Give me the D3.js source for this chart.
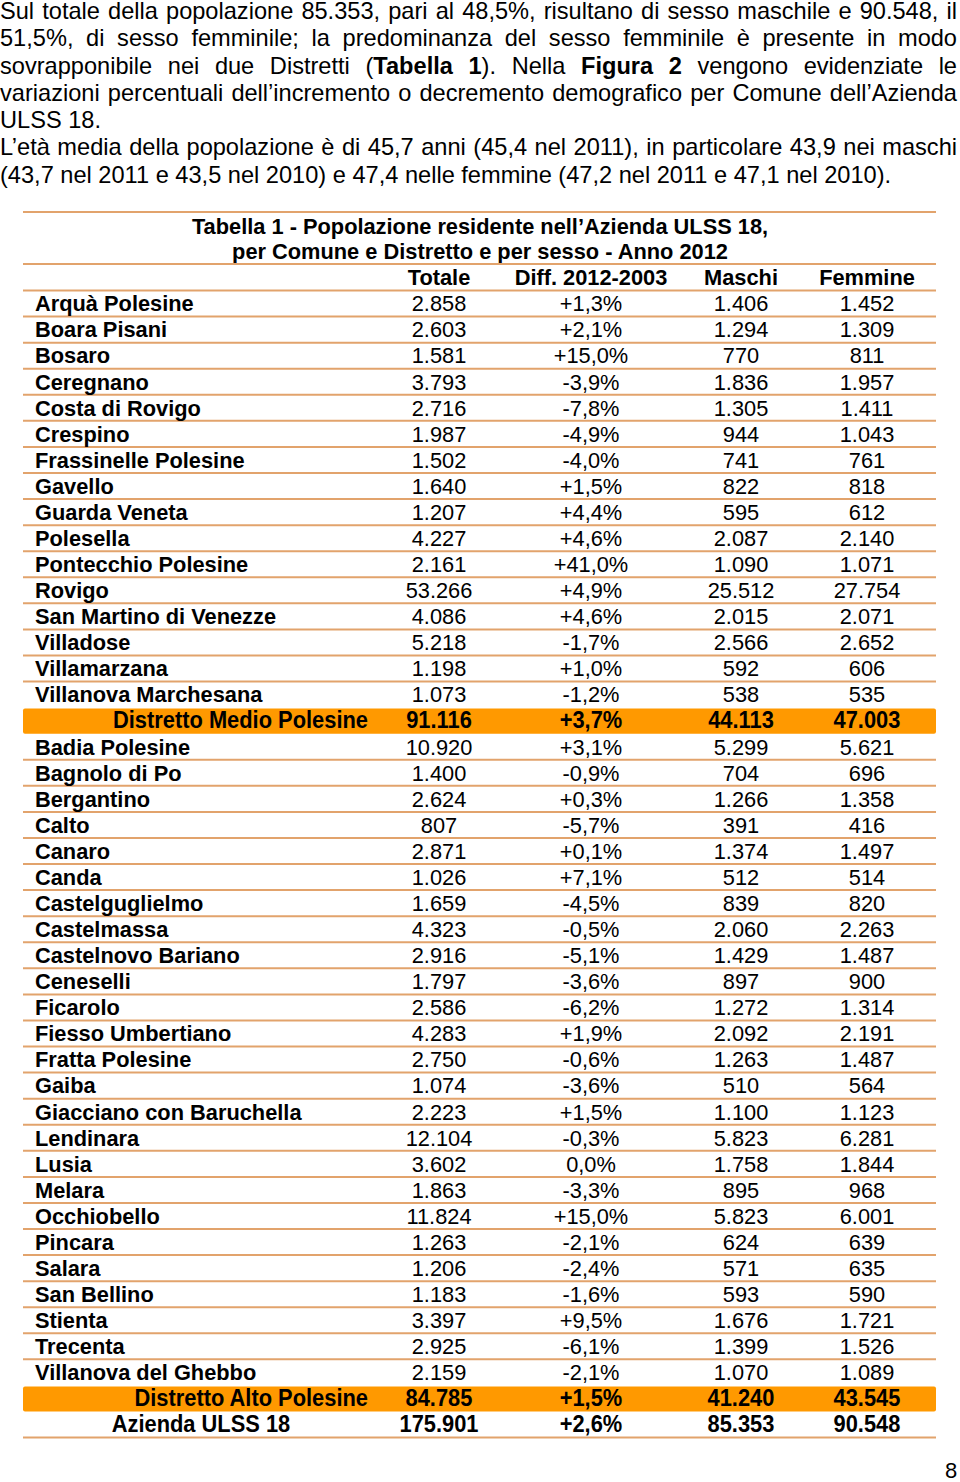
<!DOCTYPE html>
<html>
<head>
<meta charset="utf-8">
<script src="https://cdn.jsdelivr.net/npm/d3@7"></script>
<style>
  body { margin: 0; background: #fff; width: 960px; height: 1482px; overflow: hidden; position: relative; }
  #testo { position: absolute; left: 0px; top: -2px; width: 957px; font-family: "Liberation Sans", Arial, sans-serif; font-size: 23.6px; line-height: 27.3px; color: #000; }
  #testo .riga { white-space: nowrap; }
  #testo .just { text-align: justify; text-align-last: justify; }
  svg { position: absolute; left: 0; top: 0; }
</style>
</head>
<body>
<div id="testo"></div>
<svg id="tab" width="960" height="1482"></svg>
<script>
// testo introduttivo, riga per riga (b = grassetto)
const righeTesto = [
  { j: true, parti: [["Sul totale della popolazione 85.353, pari al 48,5%, risultano di sesso maschile e 90.548, il"]] },
  { j: true, parti: [["51,5%, di sesso femminile; la predominanza del sesso femminile è presente in modo"]] },
  { j: true, parti: [["sovrapponibile nei due Distretti ("], ["Tabella 1", "b"], ["). Nella "], ["Figura 2", "b"], [" vengono evidenziate le"]] },
  { j: true, parti: [["variazioni percentuali dell’incremento o decremento demografico per Comune dell’Azienda"]] },
  { j: false, parti: [["ULSS 18."]] },
  { j: true, parti: [["L’età media della popolazione è di 45,7 anni (45,4 nel 2011), in particolare 43,9 nei maschi"]] },
  { j: false, parti: [["(43,7 nel 2011 e 43,5 nel 2010) e 47,4 nelle femmine (47,2 nel 2011 e 47,1 nel 2010)."]] }
];

const titolo = ["Tabella 1 - Popolazione residente nell’Azienda ULSS 18,",
                "per Comune e Distretto e per sesso - Anno 2012"];
const intestazioni = ["Totale", "Diff. 2012-2003", "Maschi", "Femmine"];

const comuni = [
  "Arquà Polesine", "Boara Pisani", "Bosaro", "Ceregnano", "Costa di Rovigo", "Crespino",
  "Frassinelle Polesine", "Gavello", "Guarda Veneta", "Polesella", "Pontecchio Polesine",
  "Rovigo", "San Martino di Venezze", "Villadose", "Villamarzana", "Villanova Marchesana",
  "Distretto Medio Polesine",
  "Badia Polesine", "Bagnolo di Po", "Bergantino", "Calto", "Canaro", "Canda",
  "Castelguglielmo", "Castelmassa", "Castelnovo Bariano", "Ceneselli", "Ficarolo",
  "Fiesso Umbertiano", "Fratta Polesine", "Gaiba", "Giacciano con Baruchella", "Lendinara",
  "Lusia", "Melara", "Occhiobello", "Pincara", "Salara", "San Bellino", "Stienta",
  "Trecenta", "Villanova del Ghebbo",
  "Distretto Alto Polesine",
  "Azienda ULSS 18"
];
const totale = [
  2858, 2603, 1581, 3793, 2716, 1987, 1502, 1640, 1207, 4227, 2161, 53266, 4086, 5218, 1198, 1073,
  91116,
  10920, 1400, 2624, 807, 2871, 1026, 1659, 4323, 2916, 1797, 2586, 4283, 2750, 1074, 2223, 12104,
  3602, 1863, 11824, 1263, 1206, 1183, 3397, 2925, 2159,
  84785,
  175901
];
const diff = [
  1.3, 2.1, 15.0, -3.9, -7.8, -4.9, -4.0, 1.5, 4.4, 4.6, 41.0, 4.9, 4.6, -1.7, 1.0, -1.2,
  3.7,
  3.1, -0.9, 0.3, -5.7, 0.1, 7.1, -4.5, -0.5, -5.1, -3.6, -6.2, 1.9, -0.6, -3.6, 1.5, -0.3,
  0.0, -3.3, 15.0, -2.1, -2.4, -1.6, 9.5, -6.1, -2.1,
  1.5,
  2.6
];
const maschi = [
  1406, 1294, 770, 1836, 1305, 944, 741, 822, 595, 2087, 1090, 25512, 2015, 2566, 592, 538,
  44113,
  5299, 704, 1266, 391, 1374, 512, 839, 2060, 1429, 897, 1272, 2092, 1263, 510, 1100, 5823,
  1758, 895, 5823, 624, 571, 593, 1676, 1399, 1070,
  41240,
  85353
];
const femmine = [
  1452, 1309, 811, 1957, 1411, 1043, 761, 818, 612, 2140, 1071, 27754, 2071, 2652, 606, 535,
  47003,
  5621, 696, 1358, 416, 1497, 514, 820, 2263, 1487, 900, 1314, 2191, 1487, 564, 1123, 6281,
  1844, 968, 6001, 639, 635, 590, 1721, 1526, 1089,
  43545,
  90548
];
const distretti = ["Distretto Medio Polesine", "Distretto Alto Polesine"];
const totaleAzienda = "Azienda ULSS 18";

// testo
const testo = d3.select("#testo");
righeTesto.forEach(r => {
  const div = testo.append("div").attr("class", r.j ? "riga just" : "riga");
  r.parti.forEach(p => {
    div.append("span").style("font-weight", p[1] ? "bold" : null).text(p[0]);
  });
});

// tabella
const it = d3.formatLocale({ decimal: ",", thousands: ".", grouping: [3], currency: ["€", ""], minus: "-" });
const fmtN = it.format(",d");
const fmtP = v => (v > 0 ? "+" : "") + it.format(".1f")(v) + "%";

const svg = d3.select("#tab");
const font = "'Liberation Sans', Arial, sans-serif";
const fs = "21.8px ";
const linea = "#e2a36c";
const arancio = "#ff9900";
const x0 = 23, x1 = 936;

const y = d3.scaleBand().domain(d3.range(comuni.length)).range([290.5, 290.5 + 26.07 * comuni.length]).padding(0);
const col = d3.scaleOrdinal().domain(["totale", "diff", "maschi", "femmine"]).range([439, 591, 741, 867]);

const righe = comuni.map((c, i) => ({
  nome: c, i,
  tipo: distretti.includes(c) ? "distretto" : (c === totaleAzienda ? "azienda" : "comune"),
  totale: fmtN(totale[i]), diff: fmtP(diff[i]), maschi: fmtN(maschi[i]), femmine: fmtN(femmine[i])
}));

// titolo e intestazione
svg.selectAll("text.titolo").data(titolo).join("text")
  .attr("class", "titolo")
  .attr("x", 480).attr("y", (d, i) => 233.5 + i * 25.5)
  .attr("text-anchor", "middle")
  .style("font", "bold " + fs + font)
  .text(d => d);

svg.selectAll("text.intest").data(intestazioni).join("text")
  .attr("class", "intest")
  .attr("x", (d, i) => col.range()[i]).attr("y", 284.5)
  .attr("text-anchor", "middle")
  .style("font", "bold " + fs + font)
  .text(d => d);

// sfondi arancio
svg.selectAll("rect.dist").data(righe.filter(r => r.tipo === "distretto")).join("rect")
  .attr("class", "dist")
  .attr("x", x0).attr("y", d => y(d.i) + 1).attr("width", x1 - x0).attr("height", y.bandwidth() - 1)
  .attr("rx", 2)
  .attr("fill", arancio);

// linee orizzontali
const yRighe = d3.range(comuni.length + 1).map(i => i < comuni.length ? y(i) : y.range()[1]);
const coperte = new Set();
righe.filter(r => r.tipo === "distretto").forEach(r => { coperte.add(r.i); coperte.add(r.i + 1); });
const yLinee = [212, 264].concat(yRighe.filter((v, k) => !coperte.has(k)));
svg.selectAll("line.riga").data(yLinee).join("line")
  .attr("class", "riga")
  .attr("x1", x0).attr("x2", x1).attr("y1", d => d).attr("y2", d => d)
  .attr("stroke", linea).attr("stroke-width", 2);

// righe
const g = svg.selectAll("g.r").data(righe).join("g").attr("class", "r")
  .attr("transform", d => `translate(0,${y(d.i) + y.bandwidth() / 2})`);

g.append("text")
  .attr("x", d => d.tipo === "comune" ? 35 : (d.tipo === "distretto" ? 368 : 201))
  .attr("y", 7.8)
  .attr("text-anchor", d => d.tipo === "comune" ? "start" : (d.tipo === "distretto" ? "end" : "middle"))
  .style("font", d => d.tipo === "comune" ? "bold " + fs + font : "bold 23.5px " + font)
  .attr("class", d => d.tipo === "comune" ? null : "stretto")
  .text(d => d.nome);

["totale", "diff", "maschi", "femmine"].forEach(k => {
  g.append("text")
    .attr("x", col(k)).attr("y", 7.8)
    .attr("text-anchor", "middle")
    .style("font", d => d.tipo === "comune" ? fs + font : "bold 23.5px " + font)
    .attr("class", d => d.tipo === "comune" ? null : "stretto")
    .text(d => d[k]);
});

// righe di sintesi in carattere stretto (condensato)
svg.selectAll("text.stretto").each(function () {
  const w = this.getComputedTextLength();
  d3.select(this).attr("textLength", w * 0.93).attr("lengthAdjust", "spacingAndGlyphs");
});

// numero di pagina
svg.append("text").attr("x", 951).attr("y", 1478).attr("text-anchor", "middle")
  .style("font", "22px " + font).text("8");
</script>
</body>
</html>
